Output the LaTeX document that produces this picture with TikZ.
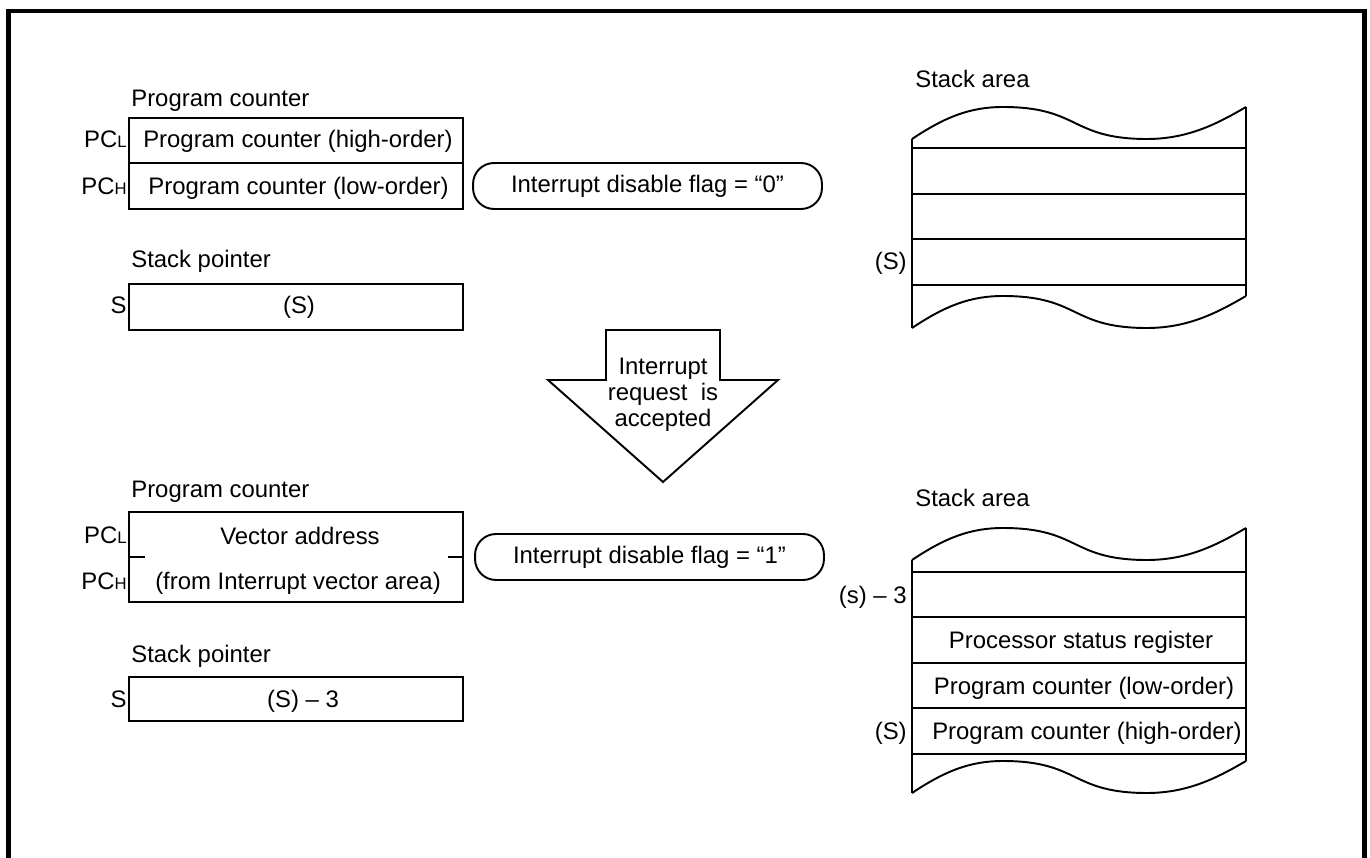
\documentclass[tikz,border=0pt]{standalone}
\usepackage{fontspec}
\setmainfont{Liberation Sans}
\newcommand\regsub[1]{{\fontsize{9.5pt}{10pt}\selectfont #1}}
\begin{document}
\begin{tikzpicture}[x=0.02cm, y=-0.02cm, line join=miter, font=\fontsize{13.6pt}{14.7pt}\selectfont]
	\tikzset{box/.style={line width=1.1pt}, txt/.style={inner sep=0pt, anchor=base}, lbl/.style={inner sep=0pt, anchor=base west}, side/.style={inner sep=0pt, anchor=base east}, pill/.style={draw, line width=1.1pt, rounded corners=0.42cm, minimum width=6.98cm, minimum height=0.92cm, inner sep=0pt}}
	\useasboundingbox (0,0) rectangle (1370,858);
	% frame
	\draw[line width=2.8pt] (8.5,858)--(8.5,11)--(1364.5,11)--(1364.5,858);
	% before the interrupt
	\node[lbl] (pctitle) at (131,107) {Program counter};
	\draw[box] (129,118) rectangle (463,209) (129,163)--(463,163);
	\node[side] (pcl) at (127,148) {PC\regsub{L}};
	\node[side] (pch) at (127,195) {PC\regsub{H}};
	\node[txt] (pchigh) at (298,148) {Program counter (high-order)};
	\node[txt] (pclow) at (298.5,195) {Program counter (low-order)};
	\node[pill] (flagzero) at (647.5,186) {Interrupt disable flag = “0”};
	\node[lbl] (sptitle) at (131,268) {Stack pointer};
	\draw[box] (129,284) rectangle (463,330);
	\node[side] (sp) at (127,314) {S};
	\node[txt] (spval) at (299,314) {(S)};
	% stack area, before
	\node[lbl] (sttitle) at (915,88) {Stack area};
	\foreach \dy in {0,189,421,654}
		\draw[box] (912,139+\dy) .. controls (945,117+\dy) and (970,107+\dy) .. (1003,107+\dy)
			.. controls (1080,107+\dy) and (1070,139+\dy) .. (1147,139+\dy)
			.. controls (1190,139+\dy) and (1220,122+\dy) .. (1246,107+\dy);
	\draw[box] (912,139)--(912,328) (1246,107)--(1246,296);
	\foreach \y in {148,194,239,285}
		\draw[box] (912,\y)--(1246,\y);
	\node[side] (stsp) at (907,270) {(S)};
	% arrow
	\draw[box] (606,330)--(720,330)--(720,380)--(778,380)--(663,482)--(548,380)--(606,380)--cycle;
	\node[align=center, inner sep=0pt] (accept) at (663,395) {Interrupt\\request~ is\\accepted};
	% after the interrupt
	\node[lbl] (pctitleb) at (131,497) {Program counter};
	\draw[box] (129,512) rectangle (463,602) (129,557)--(145,557) (448,557)--(463,557);
	\node[side] (pclb) at (127,543) {PC\regsub{L}};
	\node[side] (pchb) at (127,589) {PC\regsub{H}};
	\node[txt] (vector) at (300,544) {Vector address};
	\node[txt] (vectorarea) at (298,589) {(from Interrupt vector area)};
	\node[pill] (flagone) at (649.5,557) {Interrupt disable flag = “1”};
	\node[lbl] (sptitleb) at (131,662) {Stack pointer};
	\draw[box] (129,677) rectangle (463,721);
	\node[side] (spb) at (127,707) {S};
	\node[txt] (spvalb) at (303,707) {(S) – 3};
	% stack area, after
	\node[lbl] (sttitleb) at (915,506) {Stack area};
	\draw[box] (912,560)--(912,793) (1246,528)--(1246,761);
	\foreach \y in {572,617,663,708,754}
		\draw[box] (912,\y)--(1246,\y);
	\node[side] (stmin) at (907,603) {(s) – 3};
	\node[txt] (psr) at (1081,648.5) {Processor status register};
	\node[txt] (stlow) at (1084,694) {Program counter (low-order)};
	\node[txt] (sthigh) at (1087,739.5) {Program counter (high-order)};
	\node[side] (stspb) at (907,739.5) {(S)};
\end{tikzpicture}
\end{document}
